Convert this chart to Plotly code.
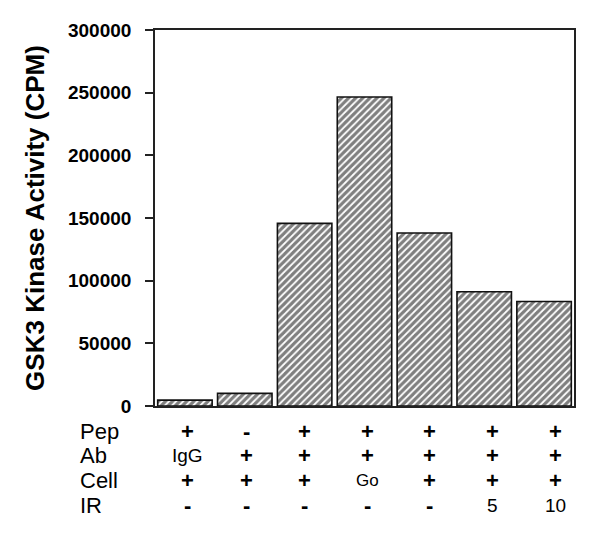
import plotly.graph_objects as go

# bar values (CPM)
conditions = ["1", "2", "3", "4", "5", "6", "7"]
activity = [4700, 10100, 145700, 246500, 138000, 91200, 83400]

# treatment table under the bars
row_names = ["Pep", "Ab", "Cell", "IR"]
pep = ["+", "-", "+", "+", "+", "+", "+"]
ab = ["IgG", "+", "+", "+", "+", "+", "+"]
cell = ["+", "+", "+", "Go", "+", "+", "+"]
ir = ["-", "-", "-", "-", "-", "5", "10"]
table = [pep, ab, cell, ir]

yticks = [0, 50000, 100000, 150000, 200000, 250000, 300000]

FONT = "Liberation Sans, Arial"

fig = go.Figure()
fig.add_trace(go.Bar(
    x=list(range(len(conditions))), y=activity,
    marker=dict(color="white",
                line=dict(color="#111111", width=1.6),
                pattern=dict(shape="/", fgcolor="black", bgcolor="white",
                             size=5, solidity=0.65)),
    width=0.91,
))

# row positions (paper coords) and small per-column nudges in px
row_y = [-0.067, -0.132, -0.197, -0.264]
col_shift = [3, 2, 0, 3, 5, 8, 11]

ann = []
for r, name in enumerate(row_names):
    ann.append(dict(x=-0.184, y=row_y[r], xref="paper", yref="paper",
                    text=name, showarrow=False, xanchor="left", yanchor="middle",
                    font=dict(family=FONT, size=22, color="black")))
    for c, val in enumerate(table[r]):
        if val in ("+", "-"):
            f = dict(family=FONT, size=22, color="black", weight="bold")
        else:
            f = dict(family=FONT, size=19 if val != "Go" else 17, color="black")
        ann.append(dict(x=c, y=row_y[r], xref="x", yref="paper", text=val,
                        showarrow=False, xanchor="center", yanchor="middle",
                        xshift=col_shift[c], font=f))

# the page puts the figure 8px in from the top-left corner
fig.update_layout(
    width=592, height=531,
    margin=dict(l=147, r=26, t=12, b=133),
    paper_bgcolor="white", plot_bgcolor="white",
    showlegend=False,
    annotations=ann,
    xaxis=dict(range=[-0.5, 6.5], showticklabels=False, ticks="",
               showline=True, mirror=True, linecolor="#222222", linewidth=1.6,
               showgrid=False, zeroline=False),
    yaxis=dict(range=[0, 300000], tickvals=yticks,
               ticktext=[str(v) for v in yticks],
               ticks="outside", ticklen=8, tickwidth=1.6, tickcolor="#222222",
               ticklabelstandoff=10,
               showline=True, mirror=True, linecolor="#222222", linewidth=1.6,
               showgrid=False, zeroline=False,
               tickfont=dict(family=FONT, size=19, color="black", weight="bold"),
               title=dict(text="GSK3 Kinase Activity (CPM)", standoff=16,
                          font=dict(family=FONT, size=26, color="black", weight="bold"))),
)

fig.write_html("out.html")
